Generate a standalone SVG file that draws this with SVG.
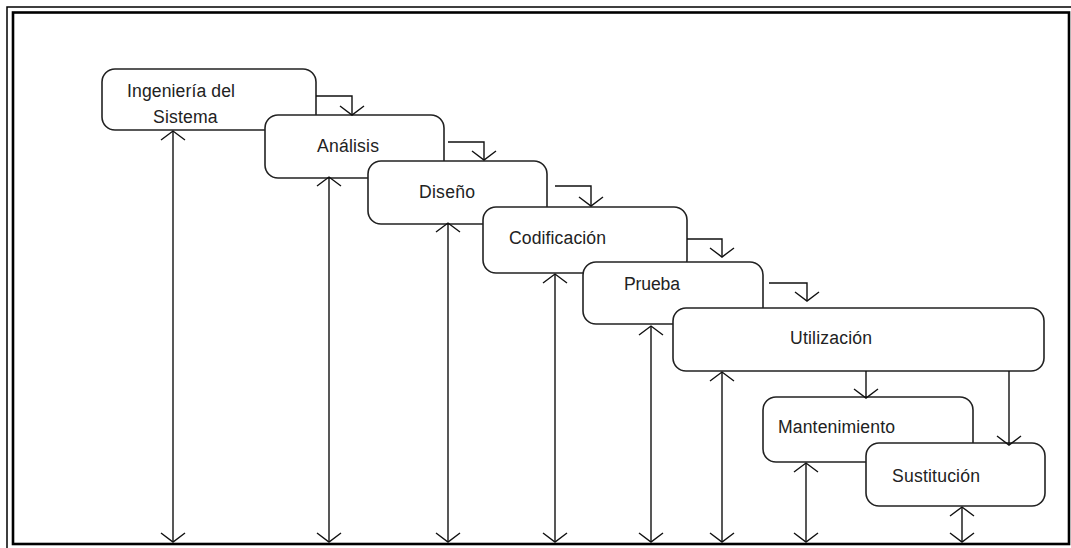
<svg xmlns="http://www.w3.org/2000/svg" width="1071" height="548" viewBox="0 0 1071 548">
<style>
.box{fill:#fff;stroke:#222;stroke-width:1.6}
.lbl{font-family:"Liberation Sans",Arial,sans-serif;font-size:17.6px;fill:#222}
.ln{fill:none;stroke:#111;stroke-width:1.4}
.frame-thin{fill:none;stroke:#000;stroke-width:1.5}
.frame-thick{fill:none;stroke:#000;stroke-width:2.6}
</style>
<defs>
<marker id="v" markerUnits="userSpaceOnUse" viewBox="-11 -14 13 28" markerWidth="13" markerHeight="28" refX="0" refY="0" orient="auto-start-reverse">
<path d="M-9,-12 L0,0 L-9,12" fill="none" stroke="#111" stroke-width="1.4"/>
</marker>
</defs>
<rect width="1071" height="548" fill="#fff"/>
<g id="frame">
<path class="frame-thin" d="M7,548 V7 H1071"/>
<rect class="frame-thick" x="13" y="12.5" width="1056" height="531.5"/>
</g>
<g id="n1"><rect class="box" x="102" y="69" width="214" height="61" rx="13"/>
<text class="lbl" x="127" y="97" textLength="108" lengthAdjust="spacing">Ingeniería del</text>
<text class="lbl" x="153" y="123" textLength="64.5" lengthAdjust="spacing">Sistema</text></g>
<g id="n2"><rect class="box" x="265" y="115" width="179" height="63" rx="13"/>
<text class="lbl" x="317" y="152" textLength="62" lengthAdjust="spacing">Análisis</text></g>
<g id="n3"><rect class="box" x="368" y="161" width="179" height="63" rx="13"/>
<text class="lbl" x="419" y="198" textLength="56" lengthAdjust="spacing">Diseño</text></g>
<g id="n4"><rect class="box" x="483" y="207" width="204" height="66" rx="13"/>
<text class="lbl" x="509" y="244" textLength="97" lengthAdjust="spacing">Codificación</text></g>
<g id="n5"><rect class="box" x="583" y="262" width="180" height="62" rx="13"/>
<text class="lbl" x="624" y="290" textLength="56" lengthAdjust="spacing">Prueba</text></g>
<g id="n6"><rect class="box" x="673" y="308" width="371" height="63" rx="13"/>
<text class="lbl" x="790" y="344" textLength="82" lengthAdjust="spacing">Utilización</text></g>
<g id="n7"><rect class="box" x="763" y="397" width="210" height="65" rx="13"/>
<text class="lbl" x="778" y="433" textLength="117" lengthAdjust="spacing">Mantenimiento</text></g>
<g id="n8"><rect class="box" x="866" y="443" width="179" height="63" rx="13"/>
<text class="lbl" x="892" y="482" textLength="88" lengthAdjust="spacing">Sustitución</text></g>
<g id="connectors">
<path class="ln" d="M316,96 H352 V115" marker-end="url(#v)"/>
<path class="ln" d="M448,142 H484 V160" marker-end="url(#v)"/>
<path class="ln" d="M555,186 H591 V206" marker-end="url(#v)"/>
<path class="ln" d="M687,239 H722 V257" marker-end="url(#v)"/>
<path class="ln" d="M769,283 H807 V301" marker-end="url(#v)"/>
<path class="ln" d="M866,371 V398" marker-end="url(#v)"/>
<path class="ln" d="M1009,371 V445" marker-end="url(#v)"/>
<path class="ln" d="M173,131 V542" marker-start="url(#v)" marker-end="url(#v)"/>
<path class="ln" d="M329,177 V542" marker-start="url(#v)" marker-end="url(#v)"/>
<path class="ln" d="M448,223 V542" marker-start="url(#v)" marker-end="url(#v)"/>
<path class="ln" d="M555,274 V542" marker-start="url(#v)" marker-end="url(#v)"/>
<path class="ln" d="M651,326 V542" marker-start="url(#v)" marker-end="url(#v)"/>
<path class="ln" d="M722,372 V542" marker-start="url(#v)" marker-end="url(#v)"/>
<path class="ln" d="M806,463 V542" marker-start="url(#v)" marker-end="url(#v)"/>
<path class="ln" d="M962,507 V542" marker-start="url(#v)" marker-end="url(#v)"/>
</g>
</svg>
